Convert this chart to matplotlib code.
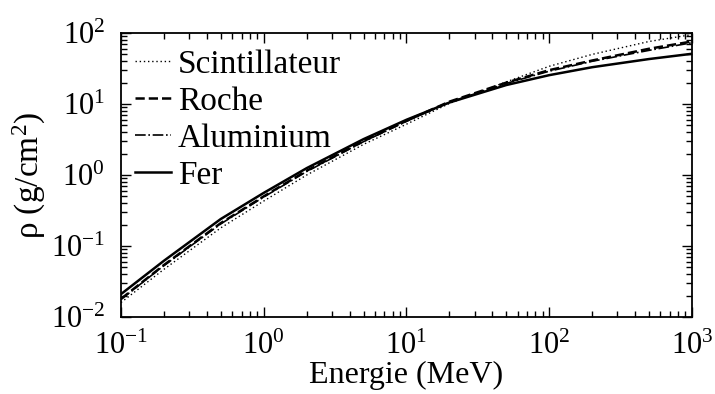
import numpy as np
import matplotlib.pyplot as plt

plt.rcParams['font.family'] = ['Liberation Serif', 'DejaVu Serif']
plt.rcParams['mathtext.fontset'] = 'custom'
plt.rcParams['mathtext.rm'] = 'Liberation Serif'
plt.rcParams['mathtext.it'] = 'Liberation Serif:italic'

# Energie (MeV) et parcours (g/cm2) pour chaque milieu
energie = np.array([0.1, 0.2, 0.5, 1, 2, 5, 10, 20, 50, 100, 200, 500, 1000])
scint = np.array([0.016, 0.047, 0.18, 0.43, 1.0, 2.7, 5.2, 10.2, 20.5, 34, 50, 76, 95])
roche = np.array([0.018, 0.054, 0.21, 0.50, 1.15, 3.0, 5.8, 10.8, 20, 30, 41, 60, 76])
alu = np.array([0.0177, 0.053, 0.205, 0.49, 1.12, 2.95, 5.7, 10.6, 19.5, 29, 40, 57, 73])
fer = np.array([0.021, 0.062, 0.24, 0.56, 1.25, 3.2, 6.0, 10.5, 18.5, 25.5, 33, 43, 51])

fig = plt.figure(figsize=(7.15, 3.94), dpi=100)
ax = fig.add_axes([0.1692, 0.1954, 0.7986, 0.7208])

ax.loglog(energie, scint, linestyle=(0, (1, 2)), color='k', lw=1.0, label='Scintillateur')
ax.loglog(energie, roche, '--', color='k', lw=1.8, label='Roche')
ax.loglog(energie, alu, '-.', color='k', lw=1.2, label='Aluminium')
ax.loglog(energie, fer, '-', color='k', lw=1.8, label='Fer')

ax.set_xlim(0.1, 1000)
ax.set_ylim(0.01, 100)
ax.set_xlabel('Energie (MeV)', fontsize=23, labelpad=0)
ax.set_ylabel(r'ρ (g/cm$^2$)', fontsize=24, labelpad=2)

ax.tick_params(which='both', direction='in', top=True, right=True, labelsize=22, width=1)
ax.tick_params(which='major', length=7)
ax.tick_params(which='minor', length=4)
ax.tick_params(axis='x', which='major', pad=10.5)
ax.tick_params(axis='y', which='major', pad=11.5)
for s in ax.spines.values():
    s.set_linewidth(1.3)

ax.legend(loc='upper left', frameon=False, fontsize=24, handlelength=1.1,
          handletextpad=0.2, labelspacing=0.2, borderaxespad=0.2,
          bbox_to_anchor=(-0.011, 1.014))

plt.savefig('out.png', dpi=100)
